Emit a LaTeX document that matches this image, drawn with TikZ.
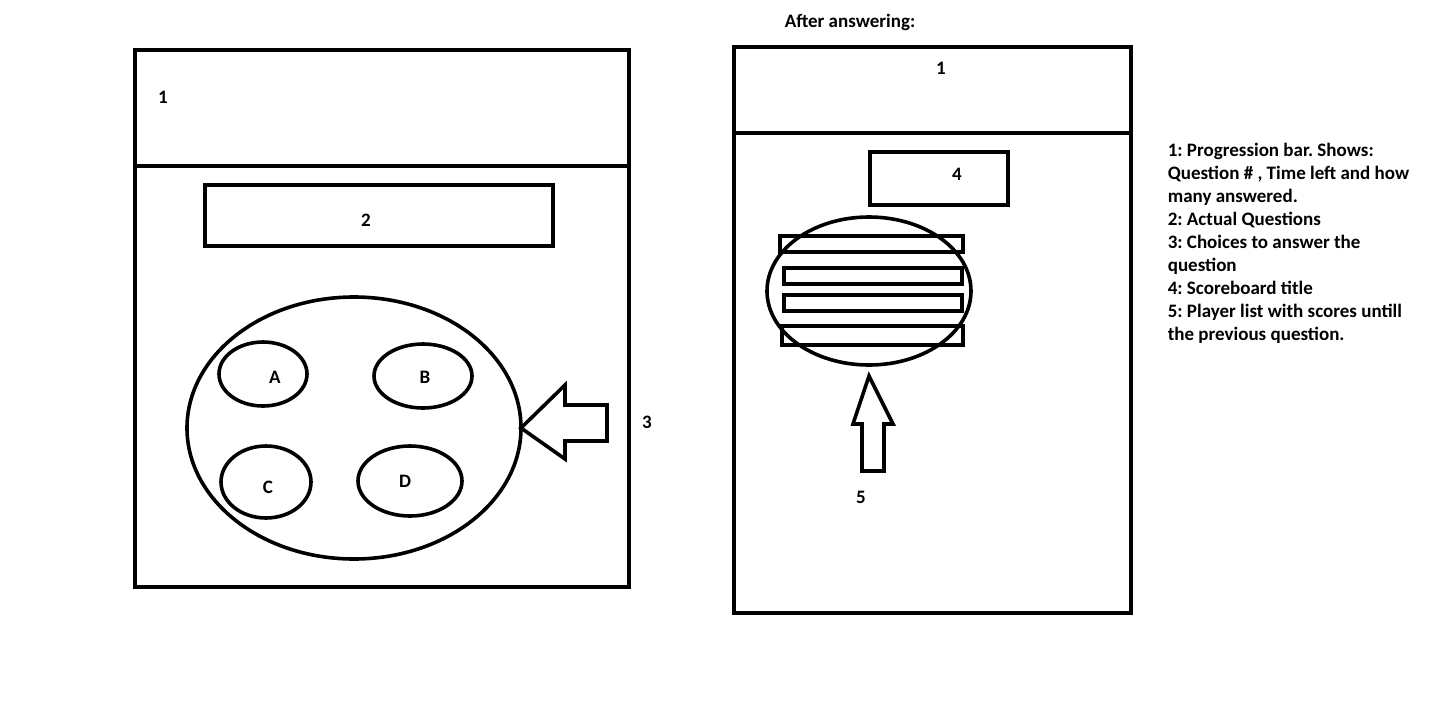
\documentclass[tikz,border=0pt]{standalone}
\usepackage{fontspec}
\setmainfont{Carlito}
\usetikzlibrary{positioning,shapes.geometric}

\begin{document}
\begin{tikzpicture}[
  x=1pt,y=-1pt,
  line width=3.6pt,
  oval/.style={draw,ellipse,inner sep=0pt,outer sep=0pt},
  lbl/.style={font=\fontsize{19}{23}\selectfont\bfseries,inner sep=0pt},
  legend/.style={font=\fontsize{19}{23}\selectfont\bfseries\frenchspacing,
    align=left,inner sep=0pt}
]
  \useasboundingbox (0,0) rectangle (1444,705);
  % left screen: question view
  \draw (135,50) rectangle (629,587);
  \draw (135,166) -- (629,166);
  \node[lbl] (barL) at (163,97) {1};
  \draw (205,185) rectangle (553,246);
  \node[lbl] (quest) at (366,220) {2};
  \node[oval,minimum width=334pt,minimum height=262pt] (choices) at (354,428) {};
  \node[oval,minimum width=88pt,minimum height=64pt] (optA) at (263,374) {};
  \node[oval,minimum width=98pt,minimum height=64pt] (optB) at (423,376) {};
  \node[oval,minimum width=90pt,minimum height=72pt] (optC) at (266,482) {};
  \node[oval,minimum width=104pt,minimum height=70pt] (optD) at (410,481) {};
  \foreach \n/\x/\y in {A/275/377,B/425/377,C/268/487,D/405/481}
    {\node[lbl] (txt\n) at (\x,\y) {\n};}
  \draw[line join=miter] (choices.east) -- (565,385) -- (565,405) -- (607,405)
    -- (607,441) -- (565,441) -- (565,459) -- cycle;
  \node[lbl] (choiceNo) at (647,422) {3};
  % right screen: scoreboard
  \node[lbl] (after) at (850,22) {After answering:};
  \draw (734,47) rectangle (1131,613);
  \draw (734,133) -- (1131,133);
  \node[lbl] (barR) at (941,68) {1};
  \draw (870,152) rectangle (1008,205);
  \node[lbl] (title) at (957,174) {4};
  \node[oval,minimum width=204pt,minimum height=148pt] (players) at (869,291) {};
  \foreach \a/\b/\c/\d in {780/236/963/252,784/268/962/284,
                           784/295/962/311,782/326/963/345}
    {\draw (\a,\b) rectangle (\c,\d);}
  \draw[line join=miter] ([yshift=-11pt]players.south) -- (893,424) -- (884,424)
    -- (884,471) -- (862,471) -- (862,424) -- (853,424) -- cycle;
  \node[lbl] (playerNo) at (861,497) {5};
  % legend
  \node[legend,anchor=north west] (notes) at (1166,141)
    {1: Progression bar. Shows:\\
     Question \# , Time left and how\\
     many answered.\\
     2: Actual Questions\\
     3: Choices to answer the\\
     question\\
     4: Scoreboard title\\
     5: Player list with scores untill\\
     the previous question.};
\end{tikzpicture}
\end{document}
